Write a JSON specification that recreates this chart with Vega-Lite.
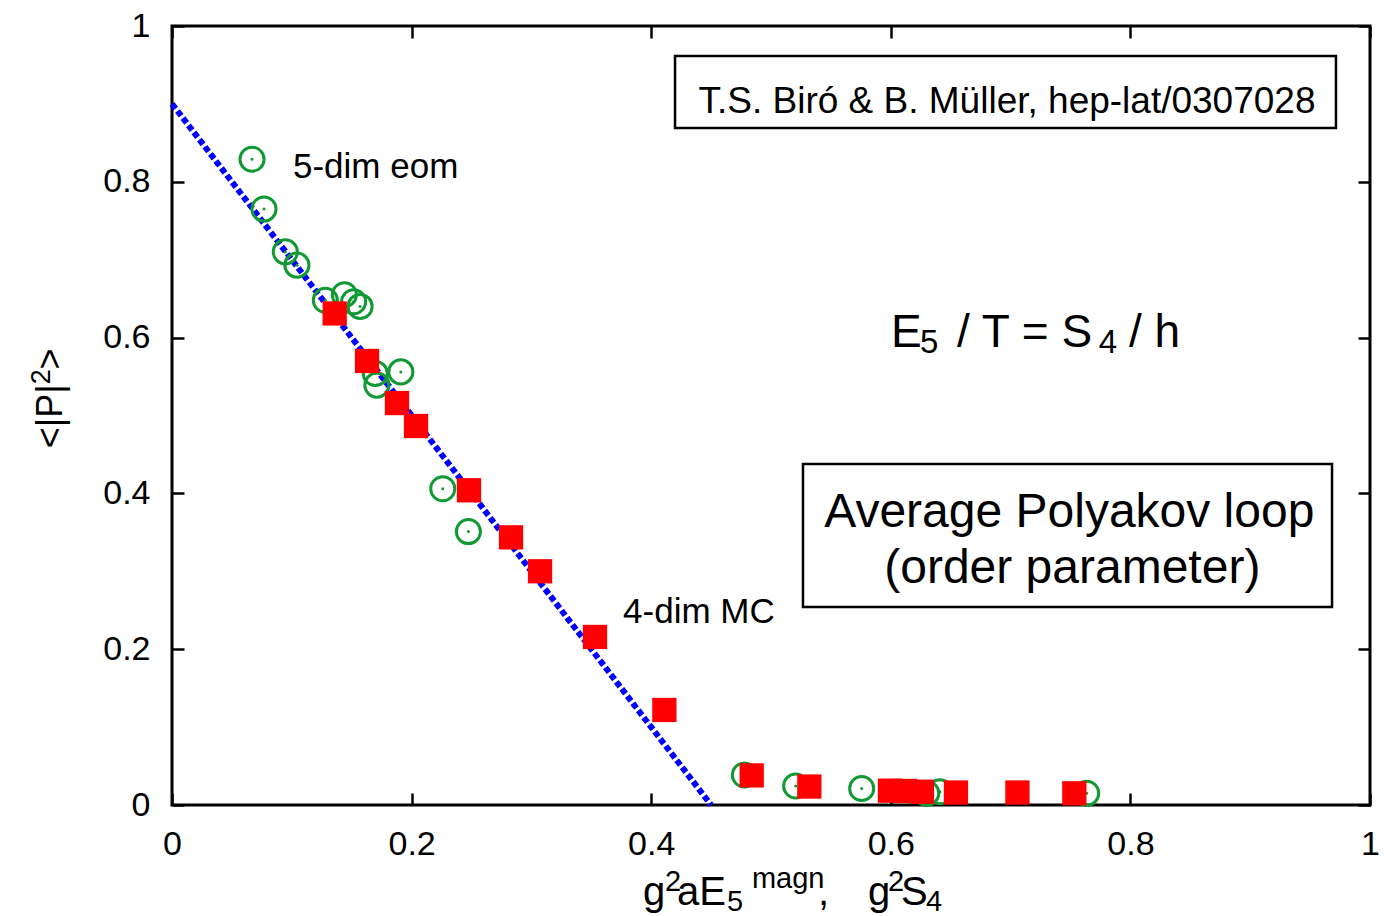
{
  "$schema": "https://vega.github.io/schema/vega-lite/v6.json",
  "width": 1198,
  "height": 779,
  "autosize": {"type": "none"},
  "padding": {"left": 172, "top": 26, "right": 24, "bottom": 111},
  "background": "white",
  "config": {
    "view": {"stroke": "black", "strokeWidth": 3},
    "font": "Liberation Sans",
    "axis": {
      "grid": false, "domain": false, "tickColor": "black", "tickWidth": 2.5, "tickSize": -12,
      "labelFont": "Liberation Sans", "labelFontSize": 34, "labelColor": "black",
      "labelPadding": 34, "labelFlush": false, "title": null, "format": "~g"
    }
  },
  "datasets": {
    "line": [{"x": 0, "y": 0.9}, {"x": 0.45, "y": 0}],
    "eom": [
      {"x": 0.0668, "y": 0.829}, {"x": 0.0768, "y": 0.765}, {"x": 0.0946, "y": 0.710}, {"x": 0.1043, "y": 0.693},
      {"x": 0.128, "y": 0.648}, {"x": 0.1439, "y": 0.655}, {"x": 0.1516, "y": 0.646}, {"x": 0.157, "y": 0.640},
      {"x": 0.1697, "y": 0.554}, {"x": 0.171, "y": 0.539}, {"x": 0.191, "y": 0.556}, {"x": 0.226, "y": 0.406},
      {"x": 0.2474, "y": 0.351}, {"x": 0.4778, "y": 0.0385}, {"x": 0.5206, "y": 0.0244}, {"x": 0.5757, "y": 0.0212},
      {"x": 0.630, "y": 0.015}, {"x": 0.641, "y": 0.017}, {"x": 0.7635, "y": 0.015}
    ],
    "mc": [
      {"x": 0.1358, "y": 0.631}, {"x": 0.1628, "y": 0.570}, {"x": 0.1878, "y": 0.516}, {"x": 0.2037, "y": 0.4865},
      {"x": 0.2479, "y": 0.404}, {"x": 0.283, "y": 0.3436}, {"x": 0.3072, "y": 0.300}, {"x": 0.3531, "y": 0.2157},
      {"x": 0.411, "y": 0.122}, {"x": 0.4839, "y": 0.038}, {"x": 0.532, "y": 0.0237}, {"x": 0.5993, "y": 0.0184},
      {"x": 0.612, "y": 0.018}, {"x": 0.626, "y": 0.017}, {"x": 0.6544, "y": 0.016}, {"x": 0.7057, "y": 0.016},
      {"x": 0.7532, "y": 0.015}
    ],
    "labels": [
      {"t": "5-dim eom", "x": 0.101, "y": 0.805},
      {"t": "4-dim MC", "x": 0.3765, "y": 0.233}
    ],
    "boxes": [
      {"x": 0.4199, "x2": 0.9716, "y": 0.9615, "y2": 0.869},
      {"x": 0.5267, "x2": 0.9683, "y": 0.4377, "y2": 0.2542}
    ],
    "boxtext": [
      {"t": "Average Polyakov loop", "x": 0.749, "y": 0.3569},
      {"t": "(order parameter)", "x": 0.7515, "y": 0.285}
    ],
    "credit": [{"t": "T.S. Biró & B. Müller, hep-lat/0307028", "x": 0.697, "y": 0.888}],
    "formula": [
      {"t": "E", "x": 0.6002, "y": 0.588},
      {"t": "/ T = S", "x": 0.6553, "y": 0.588},
      {"t": "/ h", "x": 0.7988, "y": 0.588}
    ],
    "formulasub": [
      {"t": "5", "x": 0.6244, "y": 0.580},
      {"t": "4", "x": 0.7735, "y": 0.580}
    ],
    "xtitle": [
      {"t": "g", "x": 0.3932, "y": -0.1284},
      {"t": "aE", "x": 0.4215, "y": -0.1284},
      {"t": ",", "x": 0.5392, "y": -0.1284},
      {"t": "g", "x": 0.581, "y": -0.1284},
      {"t": "S", "x": 0.6085, "y": -0.1284}
    ],
    "xtitlesmall": [
      {"t": "2", "x": 0.4115, "y": -0.110},
      {"t": "5", "x": 0.4633, "y": -0.1355},
      {"t": "magn", "x": 0.4841, "y": -0.1065},
      {"t": "2", "x": 0.5977, "y": -0.110},
      {"t": "4", "x": 0.6294, "y": -0.1355}
    ],
    "ytitle": [
      {"t": "<|P|", "x": -0.0918, "y": 0.458},
      {"t": ">", "x": -0.0918, "y": 0.559}
    ],
    "ytitlesmall": [
      {"t": "2", "x": -0.1018, "y": 0.540}
    ]
  },
  "layer": [
    {
      "data": {"name": "line"},
      "mark": {"type": "line", "color": "#0000ff", "strokeWidth": 6, "strokeDash": [6, 3], "strokeCap": "butt"},
      "encoding": {
        "x": {"field": "x", "type": "quantitative", "scale": {"domain": [0, 1], "nice": false, "zero": false},
              "axis": {"orient": "top", "labels": false, "values": [0, 0.2, 0.4, 0.6, 0.8, 1]}},
        "y": {"field": "y", "type": "quantitative", "scale": {"domain": [0, 1], "nice": false, "zero": false},
              "axis": {"orient": "right", "labels": false, "values": [0, 0.2, 0.4, 0.6, 0.8, 1]}}
      }
    },
    {
      "data": {"name": "eom"},
      "mark": {"type": "point", "shape": "circle", "filled": false, "stroke": "#119933", "strokeWidth": 3, "size": 580, "opacity": 1},
      "encoding": {
        "x": {"field": "x", "type": "quantitative", "scale": {"domain": [0, 1], "nice": false, "zero": false},
              "axis": {"orient": "bottom", "values": [0, 0.2, 0.4, 0.6, 0.8, 1]}},
        "y": {"field": "y", "type": "quantitative", "scale": {"domain": [0, 1], "nice": false, "zero": false},
              "axis": {"orient": "left", "values": [0, 0.2, 0.4, 0.6, 0.8, 1]}}
      }
    },
    {
      "data": {"name": "eom"},
      "mark": {"type": "point", "shape": "circle", "filled": true, "color": "#119933", "size": 9, "opacity": 1},
      "encoding": {
        "x": {"field": "x", "type": "quantitative", "axis": null},
        "y": {"field": "y", "type": "quantitative", "axis": null}
      }
    },
    {
      "data": {"name": "mc"},
      "mark": {"type": "square", "color": "#ff0000", "size": 590, "opacity": 1},
      "encoding": {
        "x": {"field": "x", "type": "quantitative", "axis": null},
        "y": {"field": "y", "type": "quantitative", "axis": null}
      }
    },
    {
      "data": {"name": "labels"},
      "mark": {"type": "text", "fontSize": 35, "align": "left", "baseline": "alphabetic", "color": "black"},
      "encoding": {
        "x": {"field": "x", "type": "quantitative", "axis": null},
        "y": {"field": "y", "type": "quantitative", "axis": null},
        "text": {"field": "t"}
      }
    },
    {
      "data": {"name": "boxes"},
      "mark": {"type": "rect", "fill": "white", "stroke": "black", "strokeWidth": 2.5},
      "encoding": {
        "x": {"field": "x", "type": "quantitative", "axis": null},
        "x2": {"field": "x2"},
        "y": {"field": "y", "type": "quantitative", "axis": null},
        "y2": {"field": "y2"}
      }
    },
    {
      "data": {"name": "boxtext"},
      "mark": {"type": "text", "fontSize": 48, "align": "center", "baseline": "alphabetic", "color": "black"},
      "encoding": {
        "x": {"field": "x", "type": "quantitative", "axis": null},
        "y": {"field": "y", "type": "quantitative", "axis": null},
        "text": {"field": "t"}
      }
    },
    {
      "data": {"name": "credit"},
      "mark": {"type": "text", "font": "Liberation Sans", "fontSize": 37, "align": "center", "baseline": "alphabetic", "color": "black"},
      "encoding": {
        "x": {"field": "x", "type": "quantitative", "axis": null},
        "y": {"field": "y", "type": "quantitative", "axis": null},
        "text": {"field": "t"}
      }
    },
    {
      "data": {"name": "formula"},
      "mark": {"type": "text", "fontSize": 46, "align": "left", "baseline": "alphabetic", "color": "black"},
      "encoding": {
        "x": {"field": "x", "type": "quantitative", "axis": null},
        "y": {"field": "y", "type": "quantitative", "axis": null},
        "text": {"field": "t"}
      }
    },
    {
      "data": {"name": "formulasub"},
      "mark": {"type": "text", "fontSize": 33, "align": "left", "baseline": "alphabetic", "color": "black"},
      "encoding": {
        "x": {"field": "x", "type": "quantitative", "axis": null},
        "y": {"field": "y", "type": "quantitative", "axis": null},
        "text": {"field": "t"}
      }
    },
    {
      "data": {"name": "xtitle"},
      "mark": {"type": "text", "fontSize": 40, "align": "left", "baseline": "alphabetic", "color": "black"},
      "encoding": {
        "x": {"field": "x", "type": "quantitative", "axis": null},
        "y": {"field": "y", "type": "quantitative", "axis": null},
        "text": {"field": "t"}
      }
    },
    {
      "data": {"name": "xtitlesmall"},
      "mark": {"type": "text", "fontSize": 29, "align": "left", "baseline": "alphabetic", "color": "black"},
      "encoding": {
        "x": {"field": "x", "type": "quantitative", "axis": null},
        "y": {"field": "y", "type": "quantitative", "axis": null},
        "text": {"field": "t"}
      }
    },
    {
      "data": {"name": "ytitle"},
      "mark": {"type": "text", "fontSize": 36, "angle": 270, "align": "left", "baseline": "alphabetic", "color": "black"},
      "encoding": {
        "x": {"field": "x", "type": "quantitative", "axis": null},
        "y": {"field": "y", "type": "quantitative", "axis": null},
        "text": {"field": "t"}
      }
    },
    {
      "data": {"name": "ytitlesmall"},
      "mark": {"type": "text", "fontSize": 27, "angle": 270, "align": "left", "baseline": "alphabetic", "color": "black"},
      "encoding": {
        "x": {"field": "x", "type": "quantitative", "axis": null},
        "y": {"field": "y", "type": "quantitative", "axis": null},
        "text": {"field": "t"}
      }
    }
  ],
  "resolve": {"axis": {"x": "independent", "y": "independent"}}
}
